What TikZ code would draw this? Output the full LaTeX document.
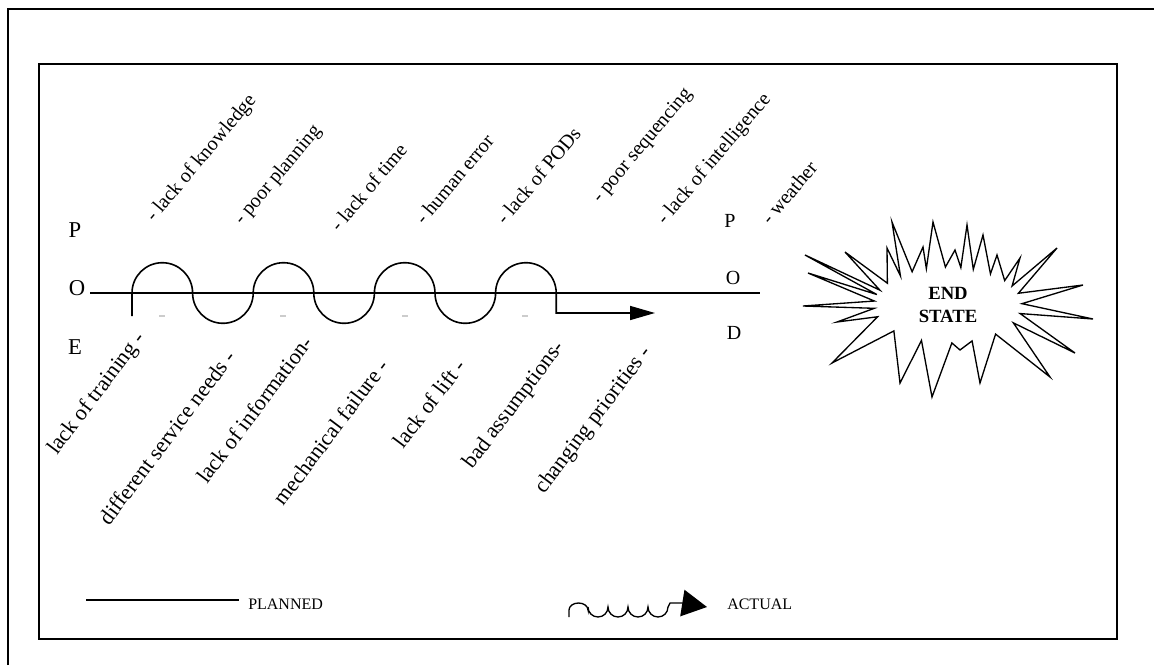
\documentclass[tikz,border=0pt]{standalone}
\usepackage{fontspec}
\setmainfont{Liberation Serif}
\usetikzlibrary{arrows.meta}

\begin{document}
\begin{tikzpicture}[x=0.75pt,y=-0.75pt,
  boxline/.style={line width=1.1pt},
  plan/.style={line width=1.2pt},
  wave/.style={line width=1.2pt},
  upcause/.style={rotate=50,anchor=base west,inner sep=0pt,font=\fontsize{15}{18}\selectfont},
  lowcause/.style={rotate=53,anchor=base east,inner sep=0pt,font=\fontsize{16.5}{19}\selectfont},
  bigletter/.style={anchor=base,inner sep=0pt,font=\fontsize{17}{20}\selectfont},
  smallletter/.style={anchor=base,inner sep=0pt,font=\fontsize{15}{18}\selectfont},
  legend/.style={anchor=base west,inner sep=0pt,font=\fontsize{12}{14}\selectfont}]

  \useasboundingbox (0,0) rectangle (1154,665);

  % frames
  \draw[line width=2.2pt] (8,665) -- (8,9) -- (1154,9);
  \draw[boxline] (39,64) rectangle (1117,639);

  % start and end letters
  \node[bigletter] (poeP) at (75,237) {P};
  \node[bigletter] (poeO) at (77,295) {O};
  \node[bigletter] (poeE) at (75,354) {E};
  \node[smallletter] (podP) at (730,227) {P};
  \node[smallletter] (podO) at (733,284) {O};
  \node[smallletter] (podD) at (734,339) {D};

  % planned line
  \coordinate (planstart) at (90,293);
  \coordinate (planend) at (760,293);
  \draw[plan] (planstart) -- (planend);

  % actual path
  \coordinate (actstart) at (132,316);
  \coordinate (actend) at (655,313);
  \draw[wave,-{Triangle[length=18.75pt,width=10.5pt]}] (actstart) -- (132,293)
    arc(180:360:30.3) arc(180:0:30.3) arc(180:360:30.3) arc(180:0:30.3)
    arc(180:360:30.3) arc(180:0:30.3) arc(180:360:30.3)
    -- (556.2,313) -- (actend);
  \foreach \x in {162,283,405,525}
    \draw[gray!40,line width=0.8pt] (\x-3,316) -- (\x+3,316);

  % frictions above the line
  \node[upcause] (knowledge) at (154,223) {- lack of knowledge};
  \node[upcause] (planning) at (242,226) {- poor planning};
  \node[upcause] (time) at (339,233) {- lack of time};
  \node[upcause] (human) at (424,226) {- human error};
  \node[upcause] (pods) at (505,226) {- lack of PODs};
  \node[upcause] (sequencing) at (600,204) {- poor sequencing};
  \node[upcause] (intel) at (665,226) {- lack of intelligence};
  \node[upcause] (weather) at (770,226) {- weather};

  % frictions below the line
  \node[lowcause] (training) at (146,338) {lack of training -};
  \node[lowcause] (service) at (237,357) {different service needs -};
  \node[lowcause] (information) at (314,343) {lack of information-};
  \node[lowcause] (mechanical) at (390,366) {mechanical failure -};
  \node[lowcause] (lift) at (467,366) {lack of lift -};
  \node[lowcause] (assumptions) at (565,347) {bad assumptions-};
  \node[lowcause] (priorities) at (652,352) {changing priorities -};

  % end state burst
  \begin{scope}[shift={(948,305)}]
    \draw[line width=1pt] (-145,1) -- (186:74 and 38) -- (-140,-32) -- (196:74 and 38)
      -- (-143,-50) -- (203:74 and 38) -- (-103,-53) -- (215:74 and 38)
      -- (-61,-57) -- (230:74 and 38) -- (-56,-83) -- (241:74 and 38)
      -- (-25,-58) -- (253:74 and 38) -- (-15,-83) -- (268:74 and 38)
      -- (7,-55) -- (280:74 and 38) -- (19,-80) -- (290:74 and 38)
      -- (35,-70) -- (305:74 and 38) -- (49,-50) -- (320:74 and 38)
      -- (72,-47) -- (330:74 and 38) -- (109,-57) -- (342:74 and 38)
      -- (135,-20) -- (358:74 and 38) -- (145,14) -- (13:74 and 38)
      -- (127,48) -- (28:74 and 38) -- (102,72) -- (50:74 and 38)
      -- (32,78) -- (71:74 and 38) -- (12,45) -- (87:74 and 38)
      -- (-16,92) -- (111:74 and 38) -- (-48,78) -- (137:74 and 38)
      -- (-116,58) -- (162:74 and 38) -- (-111,17) -- (175:74 and 38) -- cycle;
  \end{scope}
  \node[font=\bfseries\fontsize{14}{17}\selectfont,align=center] (endstate) at (948,305) {END\\STATE};

  % legend
  \coordinate (planleft) at (86,600);
  \coordinate (planright) at (239,600);
  \draw[plan] (planleft) -- (planright);
  \node[legend] (planned) at (248,609) {PLANNED};
  \coordinate (actleft) at (569,617);
  \coordinate (actright) at (707,607);
  \draw[line width=1pt,-{Triangle[length=18.75pt,width=20pt]}] (actleft) -- (569,610)
    arc[start angle=180,end angle=360,x radius=9.5,y radius=7] -- (588,607)
    arc(180:0:10) arc(180:0:10) arc(180:0:10) arc(180:0:10)
    -- (670,603) -- (682,603) -- (actright);
  \node[legend] (actual) at (727,609) {ACTUAL};

\end{tikzpicture}
\end{document}
